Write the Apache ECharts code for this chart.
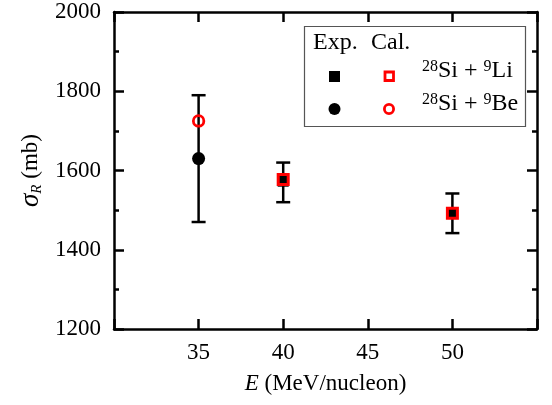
<!DOCTYPE html>
<html><head><meta charset="utf-8">
<script src="https://cdn.jsdelivr.net/npm/echarts@6/dist/echarts.min.js"></script>
<style>html,body{margin:0;padding:0;background:#fff}#c{width:552px;height:405px}</style>
</head><body><div id="c"></div>
<script>
// Data
const expLiE = [40, 50];
const expLi = [1573, 1492];
const expLiLow = [1520, 1442];
const expLiHigh = [1620, 1542];
const calLiE = [40, 50];
const calLi = [1577, 1492];
const expBeE = [35];
const expBe = [1630];
const expBeLow = [1470];
const expBeHigh = [1790];
const calBeE = [35];
const calBe = [1725];
const xTicks = [35, 40, 45, 50];
const yTicks = [1200, 1400, 1600, 1800, 2000];

const F = 'Liberation Serif';
const FS = 23;
const chart = echarts.init(document.getElementById('c'), null, {renderer: 'canvas'});

const errData = [];
expBeE.forEach((e, i) => errData.push([e, expBeLow[i], expBeHigh[i]]));
expLiE.forEach((e, i) => errData.push([e, expLiLow[i], expLiHigh[i]]));

const axisLine = {show: true, lineStyle: {color: '#000', width: 2.5}};
const baseX = {
  type: 'value', min: 30, max: 55, interval: 5,
  splitLine: {show: false},
  axisLine: axisLine,
  axisTick: {show: true, inside: true, length: 10, lineStyle: {color: '#000', width: 2.5}},
};
const baseY = {
  type: 'value', min: 1200, max: 2000, interval: 200,
  splitLine: {show: false},
  axisLine: axisLine,
  axisTick: {show: true, inside: true, length: 10, lineStyle: {color: '#000', width: 2.5}},
  minorTick: {show: true, splitNumber: 2, length: 5, lineStyle: {color: '#000', width: 2.5}},
};

function errRender(params, api) {
  const x = api.value(0);
  const p1 = api.coord([x, api.value(1)]);
  const p2 = api.coord([x, api.value(2)]);
  const hw = 7;
  const st = {stroke: '#000', lineWidth: 2.5};
  return {type: 'group', children: [
    {type: 'line', shape: {x1: p1[0], y1: p1[1], x2: p2[0], y2: p2[1]}, style: st},
    {type: 'line', shape: {x1: p1[0]-hw, y1: p1[1], x2: p1[0]+hw, y2: p1[1]}, style: st},
    {type: 'line', shape: {x1: p2[0]-hw, y1: p2[1], x2: p2[0]+hw, y2: p2[1]}, style: st}
  ]};
}

const sup = {fontSize: 16, verticalAlign: 'top', fontFamily: F, color: '#000', lineHeight: 16, padding: [0,0,9,0]};
const norm = {fontSize: 24, fontFamily: F, color: '#000'};

chart.setOption({
  animation: false,
  backgroundColor: '#fff',
  grid: {left: 114, right: 15, top: 12, bottom: 76},
  xAxis: [
    Object.assign({}, baseX, {
      position: 'bottom',
      name: '{i|E} (MeV/nucleon)', nameLocation: 'middle', nameGap: 43,
      nameTextStyle: {fontFamily: F, fontSize: FS, color: '#000',
        rich: {i: {fontStyle: 'italic', fontFamily: F, fontSize: FS, color: '#000'}}},
      axisLabel: {show: true, margin: 12, fontFamily: F, fontSize: FS, color: '#000',
        formatter: v => xTicks.indexOf(v) >= 0 ? String(v) : ''}
    }),
    Object.assign({}, baseX, {position: 'top', axisLabel: {show: false}})
  ],
  yAxis: [
    Object.assign({}, baseY, {
      position: 'left',
      name: '{i|σ}{s|R} (mb)', nameLocation: 'middle', nameGap: 64, nameRotate: 90,
      nameTextStyle: {fontFamily: F, fontSize: FS, color: '#000',
        rich: {i: {fontStyle: 'italic', fontFamily: F, fontSize: 27, color: '#000'},
               s: {fontStyle: 'italic', fontFamily: F, fontSize: 15, color: '#000', verticalAlign: 'bottom', padding: [10,0,0,0]}}},
      axisLabel: {show: true, margin: 13, fontFamily: F, fontSize: FS, color: '#000',
        formatter: v => yTicks.indexOf(v) >= 0 ? String(v) : ''}
    }),
    Object.assign({}, baseY, {position: 'right', axisLabel: {show: false}})
  ],
  series: [
    {type: 'custom', renderItem: errRender, data: errData, encode: {x: 0, y: [1, 2]}, z: 1},
    {type: 'scatter', data: expLiE.map((e, i) => [e, expLi[i]]), symbol: 'rect', symbolSize: 11,
      itemStyle: {color: '#000', opacity: 1}, z: 2},
    {type: 'scatter', data: expBeE.map((e, i) => [e, expBe[i]]), symbol: 'circle', symbolSize: 13,
      itemStyle: {color: '#000', opacity: 1}, z: 2},
    {type: 'scatter', data: calLiE.map((e, i) => [e, calLi[i]]), symbol: 'rect', symbolSize: 10,
      itemStyle: {color: 'rgba(0,0,0,0)', borderColor: '#f00', borderWidth: 3, opacity: 1}, z: 3},
    {type: 'scatter', data: calBeE.map((e, i) => [e, calBe[i]]), symbol: 'circle', symbolSize: 10.5,
      itemStyle: {color: 'rgba(0,0,0,0)', borderColor: '#f00', borderWidth: 2.8, opacity: 1}, z: 3}
  ],
  graphic: [
    {type: 'rect', shape: {x: 304.5, y: 26.5, width: 221, height: 100},
      style: {fill: '#fff', stroke: '#555', lineWidth: 1.2}, z: 10},
    {type: 'text', left: 313, top: 31, style: {text: 'Exp.', font: '24px ' + F, fill: '#000'}, z: 11},
    {type: 'text', left: 371, top: 31, style: {text: 'Cal.', font: '24px ' + F, fill: '#000'}, z: 11},
    {type: 'rect', shape: {x: 329, y: 71, width: 11, height: 11}, style: {fill: '#000'}, z: 11},
    {type: 'rect', shape: {x: 385, y: 72, width: 8.5, height: 8.5}, style: {fill: 'none', stroke: '#f00', lineWidth: 2.8}, z: 11},
    {type: 'circle', shape: {cx: 334.5, cy: 109, r: 6}, style: {fill: '#000'}, z: 11},
    {type: 'circle', shape: {cx: 389, cy: 109, r: 4.6}, style: {fill: 'none', stroke: '#f00', lineWidth: 2.8}, z: 11},
    {type: 'text', left: 422, top: 59, z: 11, style: {text: '{s|28}{n|Si + }{s|9}{n|Li}', rich: {s: sup, n: norm}}},
    {type: 'text', left: 422, top: 92, z: 11, style: {text: '{s|28}{n|Si + }{s|9}{n|Be}', rich: {s: sup, n: norm}}}
  ]
});
</script></body></html>
